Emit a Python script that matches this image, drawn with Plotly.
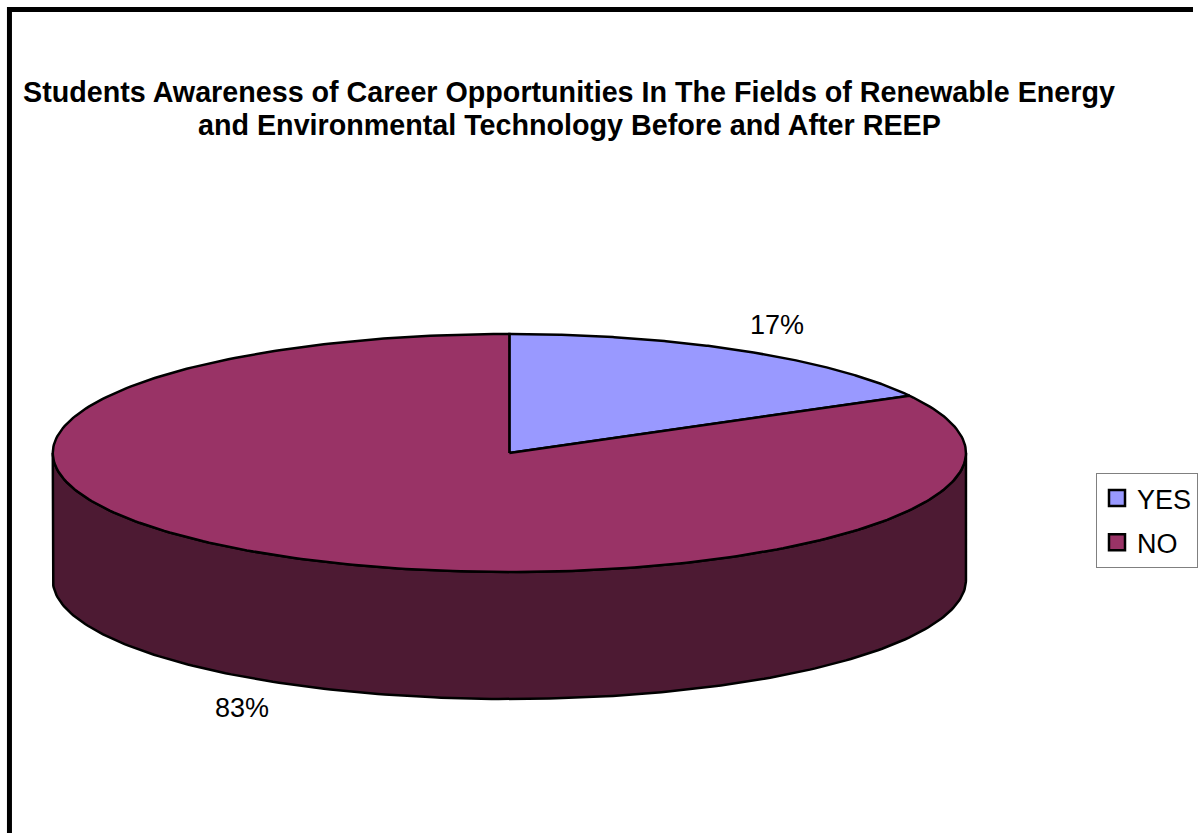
import numpy as np
import plotly.graph_objects as go

# ---- data ----
categories = ["YES", "NO"]
values = [17, 83]
title_lines = ["Students Awareness of Career Opportunities In The Fields of Renewable Energy",
               "and Environmental Technology Before and After REEP"]

# ---- styles ----
top_colors = ["#9999FF", "#993366"]
side_colors = ["#4D4D80", "#4D1A33"]
W, H = 1198, 833
cx, cy = 511.5, 453.0      # pie centre (pixels)
rx, ry = 458.5, 119.0      # ellipse radii of top face
depth = 127.0              # thickness of the 3D pie
font = "Liberation Sans, Arial, sans-serif"

total = float(sum(values))
fracs = [v / total for v in values]
starts = np.cumsum([0] + fracs[:-1]) * 2 * np.pi
ends = np.cumsum(fracs) * 2 * np.pi


def pts(theta, dy=0.0):
    return cx + rx * np.sin(theta), cy - ry * np.cos(theta) + dy


fig = go.Figure()

# side walls (visible front half: pi/2 .. 3pi/2)
for cat, a0, a1, col in zip(categories, starts, ends, side_colors):
    lo, hi = max(a0, np.pi / 2), min(a1, 3 * np.pi / 2)
    if hi <= lo:
        continue
    t = np.linspace(lo, hi, 200)
    xt, yt = pts(t)
    xb, yb = pts(t[::-1], depth)
    xs = np.concatenate([xt, xb, xt[:1]])
    ys = np.concatenate([yt, yb, yt[:1]])
    fig.add_trace(go.Scatter(x=xs, y=ys, mode="lines", fill="toself",
                             fillcolor=col, line=dict(color="black", width=2.5),
                             hoverinfo="skip", showlegend=False))

# top faces
for cat, a0, a1, col in zip(categories, starts, ends, top_colors):
    t = np.linspace(a0, a1, 300)
    xa, ya = pts(t)
    xs = np.concatenate([[cx], xa, [cx]])
    ys = np.concatenate([[cy], ya, [cy]])
    fig.add_trace(go.Scatter(x=xs, y=ys, mode="lines", fill="toself",
                             fillcolor=col, line=dict(color="black", width=2.5),
                             name=cat, hoverinfo="name", showlegend=False))

# legend entries
for cat, col in zip(categories, top_colors):
    fig.add_trace(go.Scatter(x=[None], y=[None], mode="markers", name=cat,
                             legendgroup=cat,
                             marker=dict(symbol="square", size=16, color=col,
                                         line=dict(color="black", width=2.5))))

# percentage labels
kx, ky = 1.15, 1.25
for v, a0, a1 in zip(values, starts, ends):
    mid = (a0 + a1) / 2
    lx = cx + kx * rx * np.sin(mid)
    ly = cy - ky * ry * np.cos(mid)
    if np.cos(mid) < 0:
        ly += depth
    fig.add_annotation(x=lx, y=ly, text=f"{v / total * 100:.0f}%", showarrow=False,
                       font=dict(family=font, size=27, color="black"))

# title (two lines)
for i, line in enumerate(title_lines):
    fig.add_annotation(xref="paper", yref="paper", x=571.5 / W, y=1 - (92 + 33 * i) / H,
                       text=f"<b>{line}</b>", showarrow=False,
                       xanchor="center", yanchor="middle",
                       font=dict(family=font, size=28.7, color="black"))

# outer frame
fig.add_shape(type="rect", xref="x", yref="y", x0=9.5, y0=9.5, x1=W + 40, y1=H + 40,
              line=dict(color="black", width=5), layer="above")

fig.update_layout(
    width=W, height=H,
    margin=dict(l=0, r=0, t=0, b=0),
    paper_bgcolor="white", plot_bgcolor="white",
    xaxis=dict(range=[0, W], visible=False, fixedrange=True),
    yaxis=dict(range=[H, 0], visible=False, fixedrange=True),
    showlegend=True,
    legend=dict(x=1101 / W, y=1 - 473 / H, xanchor="left", yanchor="top",
                bgcolor="white", bordercolor="#808080", borderwidth=1,
                font=dict(family=font, size=27, color="black"),
                itemwidth=30, tracegroupgap=6, traceorder="grouped"),
)

fig.write_html("out.html")
